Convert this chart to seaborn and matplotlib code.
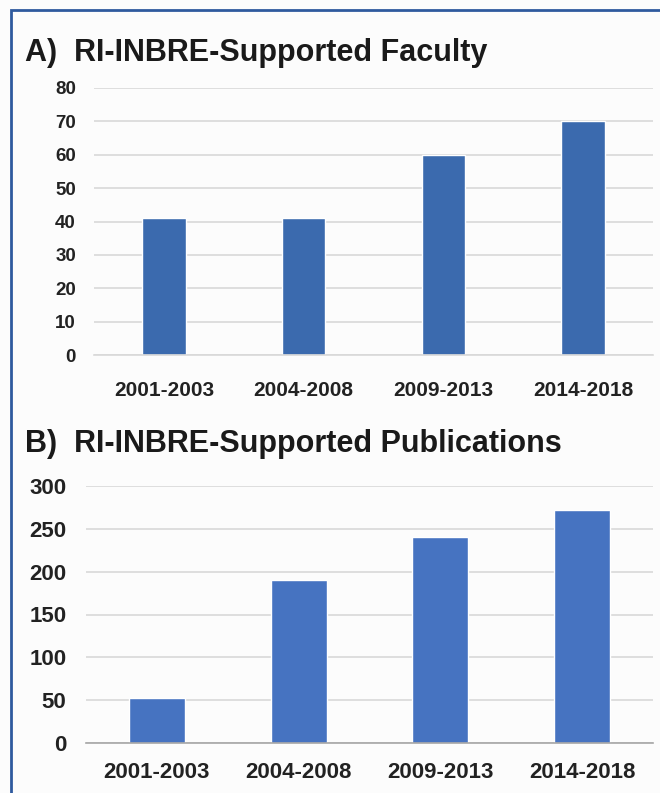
import matplotlib
matplotlib.use("Agg")
import matplotlib.pyplot as plt
import matplotlib.patches as mpatches
import seaborn as sns

periods = ["2001-2003", "2004-2008", "2009-2013", "2014-2018"]
faculty = [41, 41, 60, 70]
publications = [52, 190, 240, 272]

sns.set_style("white")
plt.rcParams['font.family'] = ['Liberation Sans', 'DejaVu Sans']

fig = plt.figure(figsize=(6.6, 7.93), dpi=100)
fig.patch.set_facecolor("#fcfcfc")

# frame around the whole panel (cropped on the right and bottom)
fig.patches.append(mpatches.Rectangle((11 / 660, -0.05), 1.2, 1 - 10 / 793 + 0.05,
                                      transform=fig.transFigure, fill=False,
                                      edgecolor="#2f5a9e", linewidth=2))

ax1 = fig.add_axes([94 / 660, 1 - 355 / 793, 559 / 660, 267 / 793])
ax2 = fig.add_axes([86 / 660, 1 - 743 / 793, 567 / 660, 257 / 793])

sns.barplot(x=periods, y=faculty, color="#3b6aae", saturation=1, width=0.31, ax=ax1)
sns.barplot(x=periods, y=publications, color="#4673c1", saturation=1, width=0.395, ax=ax2)

for ax, top, step, ysize, xsize, ypad, xpad, zero in [
    (ax1, 80, 10, 13.5, 15, 13, 19, "#d9d9d9"),
    (ax2, 300, 50, 16, 16, 14, 14, "#a6a6a6"),
]:
    ax.set_facecolor("#fcfcfc")
    ax.set_ylim(0, top)
    ax.set_yticks(range(0, top + 1, step))
    ax.grid(axis="y", color="#d9d9d9", linewidth=1.2)
    ax.set_axisbelow(True)
    for s in ["top", "right", "left"]:
        ax.spines[s].set_visible(False)
    ax.spines["bottom"].set_color(zero)
    ax.spines["bottom"].set_linewidth(1.2)
    ax.tick_params(axis="both", length=0)
    ax.tick_params(axis="y", labelsize=ysize, pad=ypad)
    ax.tick_params(axis="x", labelsize=xsize, pad=xpad)
    for lab in ax.get_xticklabels() + ax.get_yticklabels():
        lab.set_fontweight("bold")
        lab.set_color("#222222")
    ax.set_xlabel("")
    ax.set_ylabel("")

fig.text(25 / 660, 1 - 61 / 793, "A)  RI-INBRE-Supported Faculty",
         fontsize=22, fontweight="bold", color="#1a1a1a", va="baseline")
fig.text(25 / 660, 1 - 452 / 793, "B)  RI-INBRE-Supported Publications",
         fontsize=22, fontweight="bold", color="#1a1a1a", va="baseline")

plt.savefig("out.png", dpi=100, facecolor=fig.get_facecolor())
